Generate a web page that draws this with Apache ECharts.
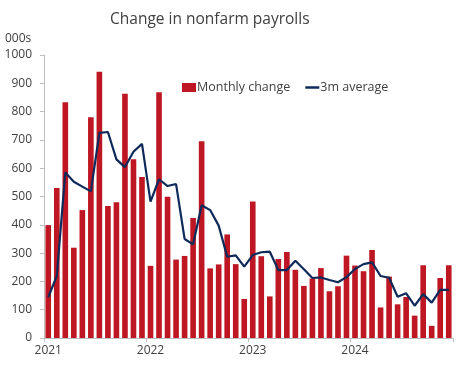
<!DOCTYPE html>
<html><head><meta charset="utf-8">
<script src="https://cdn.jsdelivr.net/npm/echarts@6/dist/echarts.min.js"></script>
<style>html,body{margin:0;padding:0;background:#fff}#c{width:465px;height:371px}</style>
</head><body><div id="c"></div>
<script>
var months = [
 '2021-01','2021-02','2021-03','2021-04','2021-05','2021-06','2021-07','2021-08','2021-09','2021-10','2021-11','2021-12',
 '2022-01','2022-02','2022-03','2022-04','2022-05','2022-06','2022-07','2022-08','2022-09','2022-10','2022-11','2022-12',
 '2023-01','2023-02','2023-03','2023-04','2023-05','2023-06','2023-07','2023-08','2023-09','2023-10','2023-11','2023-12',
 '2024-01','2024-02','2024-03','2024-04','2024-05','2024-06','2024-07','2024-08','2024-09','2024-10','2024-11','2024-12'
];
var monthlyChange = [
 399,530,833,319,452,780,941,466,480,863,632,569,
 255,868,499,277,290,424,695,246,260,366,261,138,
 482,289,147,279,304,241,184,210,247,165,183,291,
 256,236,311,108,217,119,145,79,257,43,212,257
];
var avg3m = [
 144,219,585,552,535,518,725,728,631,604,658,686,
 482,561,537,544,350,331,469,452,397,287,292,252,
 293,303,305,240,240,273,243,212,214,205,197,215,
 244,261,267,219,213,146,158,114,155,125,170,170
];
var yTicks = {min:0, max:1000, interval:100};
var seriesNames = ['Monthly change','3m average'];

var chart = echarts.init(document.getElementById('c'), null, {renderer:'canvas'});
var font = 'Open Sans';
chart.setOption({
  animation:false,
  backgroundColor:'#fff',
  title:{text:'Change in nonfarm payrolls', left:105, top:7,
    textStyle:{fontFamily:font, fontSize:15.5, fontWeight:'normal', color:'#404040'}},
  graphic:[{type:'text', left:5, top:33, style:{text:'000s', fontFamily:font, fontSize:12, fill:'#404040'}}],
  legend:{left:177, top:76, itemGap:15, itemWidth:14, itemHeight:9,
    textStyle:{fontFamily:font, fontSize:12.5, color:'#404040', padding:[0,0,0,-4]},
    data:[{name:seriesNames[0], icon:'rect'},{name:seriesNames[1], icon:'path://M0,0H14V2.5H0Z'}]},
  grid:{left:44, right:12, top:55, bottom:33, containLabel:false},
  xAxis:{type:'category', data:months, boundaryGap:true,
    axisLine:{lineStyle:{color:'#bfbfbf'}},
    axisTick:{show:true, interval:11, length:4, lineStyle:{color:'#bfbfbf'}},
    axisLabel:{interval:11, fontFamily:font, fontSize:12, color:'#404040', margin:7,
      formatter:function(v){return v.slice(0,4);}},
    splitLine:{show:false}},
  yAxis:{type:'value', min:yTicks.min, max:yTicks.max, interval:yTicks.interval,
    axisLine:{show:true, lineStyle:{color:'#bfbfbf'}},
    axisTick:{show:true, length:4, lineStyle:{color:'#bfbfbf'}},
    axisLabel:{fontFamily:font, fontSize:12, color:'#404040', margin:12,
      formatter:function(v){return String(v);}},
    splitLine:{show:false}},
  series:[
    {name:seriesNames[0], type:'bar', data:monthlyChange, barCategoryGap:'34%',
      itemStyle:{color:'#BE1622'}},
    {name:seriesNames[1], type:'line', data:avg3m, symbol:'none',
      lineStyle:{color:'#0E2A5A', width:2.2}, itemStyle:{color:'#0E2A5A'}}
  ]
});
</script></body></html>
